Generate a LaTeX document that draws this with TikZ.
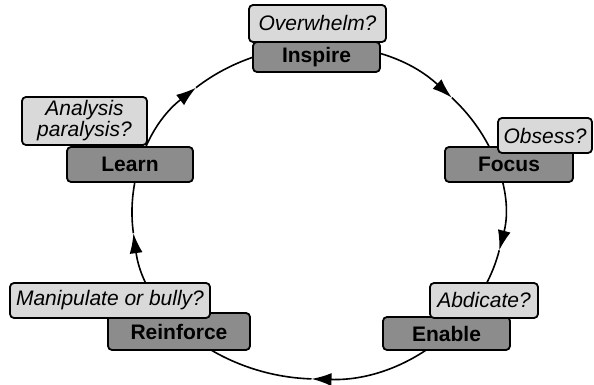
\documentclass[tikz,border=0pt]{standalone}
\usepackage{fontspec}
\setmainfont{Liberation Sans}
\usetikzlibrary{arrows.meta}
\definecolor{stagegray}{HTML}{8C8C8C}
\definecolor{askgray}{HTML}{D9D9D9}

\begin{document}
\begin{tikzpicture}[x=1pt, y=1pt, >={Latex[length=20pt, width=13pt]}, line width=1.6pt,
    stage/.style={draw, line width=1.8pt, rounded corners=4pt, fill=stagegray, inner sep=0pt,
      font=\fontsize{21}{23}\selectfont\bfseries},
    ask/.style={draw, line width=1.8pt, rounded corners=4pt, fill=askgray, inner sep=0pt, align=center,
      font=\fontsize{21}{21}\selectfont\itshape}]
  \useasboundingbox (0,0) rectangle (594,385);
  \coordinate (ctr) at (318,172);

  % the cycle, clockwise
  \foreach \a/\b in {131/44, 44/-13, -13/-92, -92/-173, -173/-229}
    \draw[->] (ctr) ++(\a:186 and 166) arc[start angle=\a, end angle=\b, x radius=186, y radius=166];

  % stages and their risks
  \node[ask, minimum width=137pt, minimum height=37pt] (overwhelm) at (317.5,361.5) {Overwhelm?};
  \node[stage, minimum width=127pt, minimum height=30pt] (inspire) at (316.5,328) {Inspire};

  \node[stage, minimum width=128pt, minimum height=35pt] (focus) at (509,220.5) {Focus};
  \node[ask, minimum width=94pt, minimum height=35pt] (obsess) at (545,249.5) {Obsess?};

  \node[stage, minimum width=127pt, minimum height=33pt] (enable) at (446.5,51.5) {Enable};
  \node[ask, minimum width=108pt, minimum height=35pt] (abdicate) at (484,84.5) {Abdicate?};

  \node[stage, minimum width=142pt, minimum height=37pt] (reinforce) at (179,53.5) {Reinforce};
  \node[ask, minimum width=200pt, minimum height=35pt] (manipulate) at (110,84.5) {Manipulate or bully?};

  \node[ask, minimum width=125pt, minimum height=48pt] (analysis) at (84.5,264) {Analysis\\paralysis?};
  \node[stage, minimum width=126pt, minimum height=35pt] (learn) at (130,220.5) {Learn};
\end{tikzpicture}
\end{document}
